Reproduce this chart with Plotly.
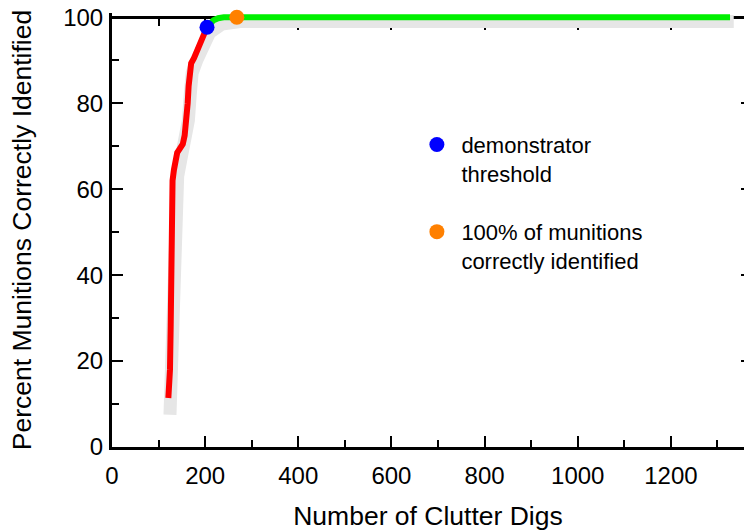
import plotly.graph_objects as go

# 불확실성 밴드 (회색)
band_x = [124.5, 126, 128, 130, 132, 135, 141, 148, 157, 164, 168, 172, 182, 195, 210, 236, 275, 1335]
band_y = [7.5, 14, 25, 35, 46, 57, 63, 67, 70.5, 76, 82, 87, 90, 93.7, 96.5, 98.4, 99, 99]

# 빨간 구간 (임계값 이전)
red_x = [121, 122.5, 124.5, 126, 126.3, 126.8, 128, 130, 133, 137, 140, 145, 152, 156,
         160, 162.5, 164.5, 166.5, 170, 176, 182, 189, 196, 204]
red_y = [11.4, 13.5, 18, 28, 40, 50, 58, 62, 64.5, 67, 68.5, 69.3, 70.5, 72.5,
         76, 80, 84, 87.5, 89.3, 90.5, 92, 94.2, 96, 97.7]

# 초록 구간 (임계값 이후)
green_x = [204, 210, 218, 228, 240, 268, 1327]
green_y = [97.7, 98.6, 99.3, 99.8, 100, 100, 100]

# 표시 점
thresh_x, thresh_y = [204], [97.7]
full_x, full_y = [268], [100]

FONT = "Liberation Sans, Arial, sans-serif"
Y_TOP = 101  # 선이 잘리지 않도록 약간 여유

fig = go.Figure()
fig.add_trace(go.Scatter(x=band_x, y=band_y, mode="lines",
                         line=dict(color="#e6e6e6", width=13),
                         showlegend=False, hoverinfo="skip"))
fig.add_trace(go.Scatter(x=red_x, y=red_y, mode="lines",
                         line=dict(color="#ff0000", width=6),
                         showlegend=False))
fig.add_trace(go.Scatter(x=green_x, y=green_y, mode="lines",
                         line=dict(color="#00f000", width=6),
                         showlegend=False))
fig.add_trace(go.Scatter(x=thresh_x, y=thresh_y, mode="markers",
                         marker=dict(color="#0000ff", size=15),
                         name="demonstrator<br>threshold", legendgroup="a",
                         cliponaxis=False))
fig.add_trace(go.Scatter(x=full_x, y=full_y, mode="markers",
                         marker=dict(color="#ff8000", size=15),
                         name="100% of munitions<br>correctly identified", legendgroup="b",
                         cliponaxis=False))
# 위/오른쪽 테두리 눈금용 빈 트레이스
fig.add_trace(go.Scatter(x=[], y=[], xaxis="x2", yaxis="y2", showlegend=False))

tick_style = dict(ticks="inside", ticklen=11, tickwidth=2, tickcolor="black",
                  showgrid=False, zeroline=False, layer="below traces")

fig.update_layout(
    width=744, height=532,
    margin=dict(l=112, r=0, t=13, b=85),
    plot_bgcolor="white", paper_bgcolor="white",
    font=dict(family=FONT, color="black", size=24),
    showlegend=True,
    legend=dict(x=0.4753, y=0.745, xanchor="left", yanchor="top",
                valign="top", tracegroupgap=27, itemwidth=39,
                font=dict(size=22, family=FONT), bgcolor="rgba(0,0,0,0)"),
    xaxis=dict(range=[0, 1357], dtick=200, tick0=0,
               showline=True, linewidth=3, linecolor="black", mirror=False,
               minor=dict(dtick=100, ticks="inside", ticklen=7, tickwidth=2, tickcolor="black"),
               ticklabelstandoff=5,
               title=dict(text="Number of Clutter Digs", font=dict(size=26.5), standoff=19),
               **tick_style),
    xaxis2=dict(range=[0, 1357], dtick=200, tick0=0, overlaying="x", side="top",
                anchor="free", position=100 / Y_TOP,
                showline=True, linewidth=3, linecolor="black", showticklabels=False,
                minor=dict(dtick=100, ticks="inside", ticklen=7, tickwidth=2, tickcolor="black"),
                **tick_style),
    yaxis=dict(range=[0, Y_TOP], tickvals=[0, 20, 40, 60, 80, 100],
               showline=True, linewidth=3, linecolor="black", mirror=False,
               minor=dict(tickvals=[10, 30, 50, 70, 90], ticks="inside", ticklen=7,
                          tickwidth=2, tickcolor="black"),
               ticklabelstandoff=1,
               title=dict(text="Percent Munitions Correctly Identified", font=dict(size=26.5), standoff=24),
               **tick_style),
    yaxis2=dict(range=[0, Y_TOP], overlaying="y", side="right", anchor="x",
                tickvals=[20, 40, 60, 80], ticks="inside", ticklen=3, tickwidth=2,
                tickcolor="black", showticklabels=False, showline=False,
                showgrid=False, zeroline=False),
)

fig.write_html("out.html", config={"displayModeBar": False},
               post_script="document.body.style.margin='0';")
